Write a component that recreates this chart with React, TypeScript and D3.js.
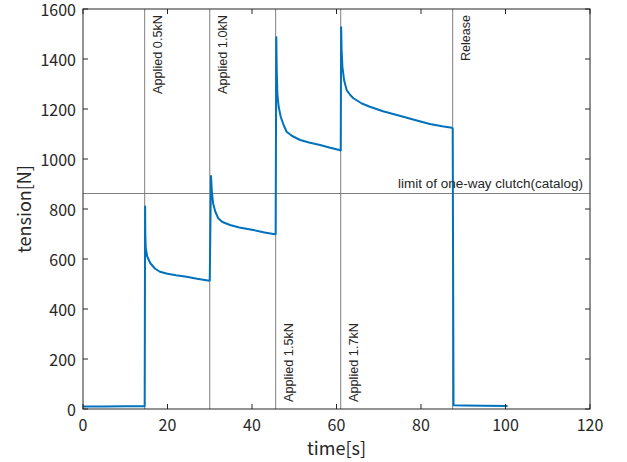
import React from "react";
import * as d3 from "d3";

const xTicks = [0, 20, 40, 60, 80, 100, 120];
const yTicks = [0, 200, 400, 600, 800, 1000, 1200, 1400, 1600];

const timeS = [
  0, 5, 10, 14.6,
  14.7, 14.75, 14.85, 15.2, 15.9, 17, 18.2, 20, 22, 24.5, 27, 29.9,
  30.0, 30.3, 30.5, 30.8, 31.3, 32, 33, 34.8, 37, 40.3, 43, 45.4,
  45.6, 45.75, 45.85, 46, 46.3, 46.8, 47.5, 48.2, 49.5, 51.4, 53.5, 56.1, 58.5, 60.7, 61.0,
  61.1, 61.2, 61.4, 61.8, 62.4, 63.2, 64, 66, 67.9, 71, 75.8, 79, 82.1, 85, 87.3, 87.5,
  87.7, 90, 95, 100.5,
];
const tensionN = [
  10, 10, 11, 11,
  810, 700, 644, 610, 584, 562, 549, 541, 535, 529, 521, 513,
  515, 932, 870, 822, 790, 763, 748, 736, 726, 716, 706, 699,
  700, 1487, 1360, 1263, 1210, 1169, 1135, 1109, 1092, 1076, 1066, 1056, 1045, 1036, 1034,
  1527, 1440, 1369, 1315, 1276, 1257, 1243, 1222, 1209, 1191, 1169, 1154, 1140, 1131, 1125, 1122,
  15, 14, 13, 12,
];

const eventTimes = [14.6, 30.0, 45.6, 61.0, 87.5];
const eventLabels = ["Applied 0.5kN", "Applied 1.0kN", "Applied 1.5kN", "Applied 1.7kN", "Release"];
const eventAtTop = [true, true, false, false, true];
const limitValue = 862;
const limitLabel = "limit of one-way clutch(catalog)";

const W = 627, H = 462;
const L = 83, R = 590, T = 9, B = 409;
const AX = "#262626";
const FONT = "'Noto Sans CJK JP', 'Noto Sans', sans-serif";
const ANN = "'Liberation Sans', Arial, sans-serif";

export default function App() {
  const x = d3.scaleLinear().domain([0, 120]).range([L, R]);
  const y = d3.scaleLinear().domain([0, 1600]).range([B, T]);
  const pts = timeS.map((t, i) => [t, tensionN[i]] as [number, number]);
  const line = d3.line<[number, number]>().x(d => x(d[0])).y(d => y(d[1]))(pts) || "";
  const tl = 5;
  const labelLen = (s: string) => (s === "Release" ? 46 : 79);
  return (
    <svg width={W} height={H} style={{ position: "absolute", left: 0, top: 0, background: "#fff" }} fontFamily={FONT}>
      <rect x={0} y={0} width={W} height={H} fill="#fff" />
      {eventTimes.map((t, i) => (
        <line key={"v" + i} x1={x(t)} x2={x(t)} y1={T} y2={B} stroke="#7f7f7f" strokeWidth={1} />
      ))}
      <line x1={L} x2={R} y1={y(limitValue)} y2={y(limitValue)} stroke="#7f7f7f" strokeWidth={1} />
      <path d={line} fill="none" stroke="#0072BD" strokeWidth={2} strokeLinejoin="round" />
      {eventTimes.map((t, i) => {
        const bx = x(t) + 17.5;
        const by = eventAtTop[i] ? 15 : 402;
        return (
          <text key={"l" + i} transform={`translate(${bx},${by}) rotate(-90)`} textAnchor={eventAtTop[i] ? "end" : "start"}
            fontSize={12.5} fontFamily={ANN} fill={AX} textLength={labelLen(eventLabels[i])} lengthAdjust="spacingAndGlyphs">{eventLabels[i]}</text>
        );
      })}
      <text x={583} y={188} textAnchor="end" fontSize={12.5} fontFamily={ANN} fill={AX} textLength={185} lengthAdjust="spacingAndGlyphs">{limitLabel}</text>
      <rect x={L} y={T} width={R - L} height={B - T} fill="none" stroke={AX} strokeWidth={1} />
      {xTicks.map(v => (
        <g key={"xt" + v}>
          <line x1={x(v)} x2={x(v)} y1={B} y2={B - tl} stroke={AX} />
          <line x1={x(v)} x2={x(v)} y1={T} y2={T + tl} stroke={AX} />
          <text x={x(v)} y={431} textAnchor="middle" fontSize={16} fill={AX}>{v}</text>
        </g>
      ))}
      {yTicks.map(v => (
        <g key={"yt" + v}>
          <line x1={L} x2={L + tl} y1={y(v)} y2={y(v)} stroke={AX} />
          <line x1={R} x2={R - tl} y1={y(v)} y2={y(v)} stroke={AX} />
          <text x={76} y={y(v) + 7} textAnchor="end" fontSize={16} fill={AX}>{v}</text>
        </g>
      ))}
      <text x={(L + R) / 2} y={455} textAnchor="middle" fontSize={18} fill={AX}>time[s]</text>
      <text transform={`translate(31,${(T + B) / 2}) rotate(-90)`} textAnchor="middle" fontSize={18} fill={AX}>tension[N]</text>
    </svg>
  );
}
